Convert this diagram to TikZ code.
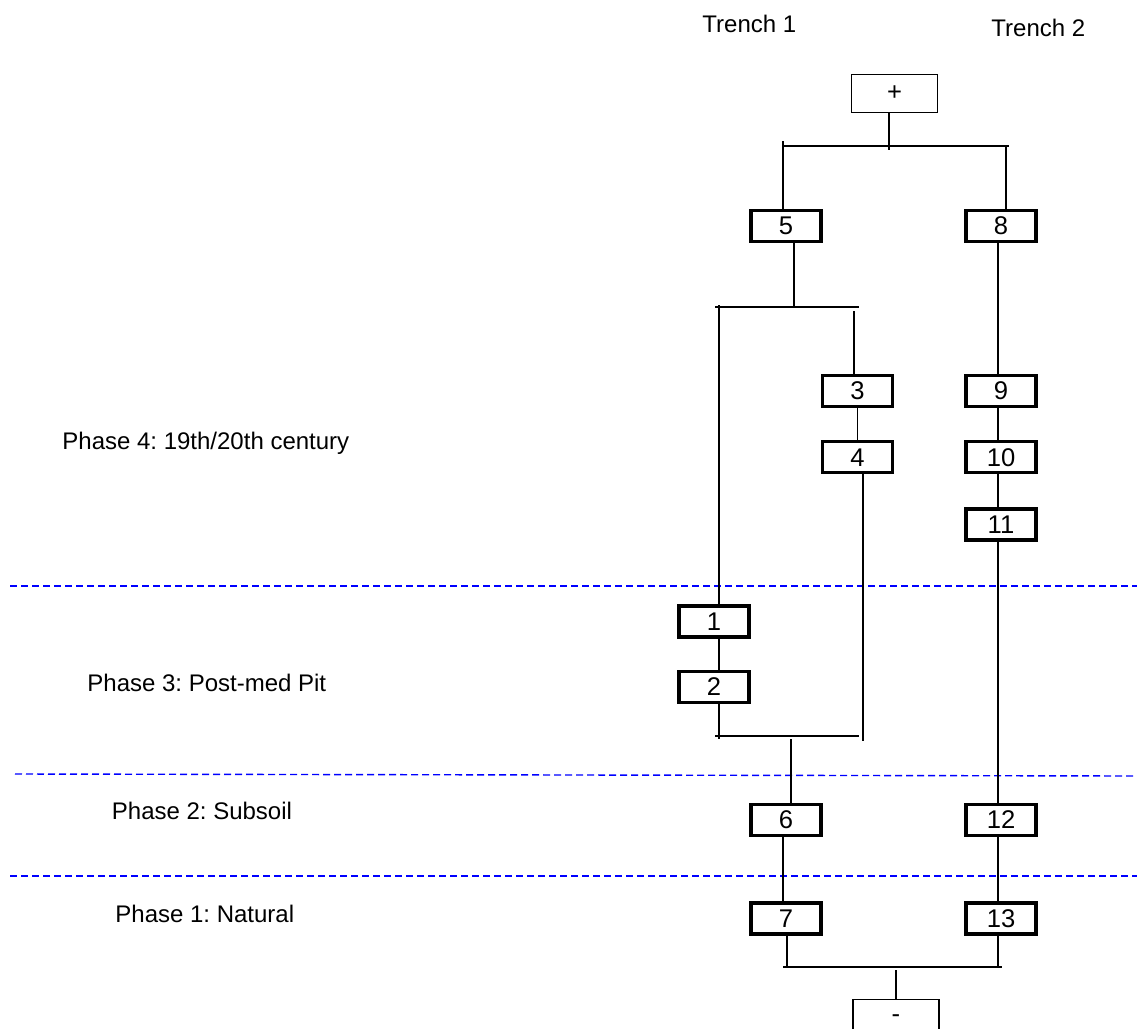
\documentclass[tikz,border=0pt]{standalone}
\usepackage{fontspec}
\setmainfont{Liberation Sans}
\usetikzlibrary{positioning}
\frenchspacing

\begin{document}
\begin{tikzpicture}[x=0.5pt, y=-0.5pt,
  unit/.style={draw, line width=1.6pt, minimum width=35pt, minimum height=15.5pt, inner sep=0pt, font=\fontsize{12.8}{14}\selectfont},
  ends/.style={draw, line width=0.7pt, minimum width=43pt, minimum height=19pt, inner sep=0pt, font=\fontsize{12.8}{14}\selectfont},
  link/.style={line width=0.65pt},
  phase/.style={draw=blue, dash pattern=on 3.5pt off 2pt, line width=0.7pt},
  lbl/.style={anchor=base west, inner sep=0pt, font=\fontsize{12}{14}\selectfont}]
  \useasboundingbox (0,0) rectangle (1137,1029);

  % phase boundaries
  \draw[phase] (10,586) -- (1137,586);
  \draw[phase] (15,774) -- (1137,776);
  \draw[phase] (10,876) -- (1137,876);

  % labels
  \node[lbl] (trench1) at (702,32.3) {Trench 1};
  \node[lbl] (trench2) at (991,36) {Trench 2};
  \node[lbl] (phase4) at (62,449.3) {Phase 4: 19th/20th century};
  \node[lbl] (phase3) at (87,691.7) {Phase 3: Post-med Pit};
  \node[lbl] (phase2) at (111.5,819.3) {Phase 2: Subsoil};
  \node[lbl] (phase1) at (115,922.3) {Phase 1: Natural};

  % contexts
  \node[ends] (plus) at (894.5,93.5) {+};
  \node[unit] (c5) at (786,226) {5};
  \node[unit] (c8) at (1001,226) {8};
  \node[unit] (c3) at (857.5,391) {3};
  \node[unit, below=16pt of c3] (c4) {4};
  \node[unit] (c9) at (1001,391) {9};
  \node[unit, below=16pt of c9] (c10) {10};
  \node[unit, below=16.5pt of c10] (c11) {11};
  \node[unit] (c1) at (714,621.5) {1};
  \node[unit, below=15.5pt of c1] (c2) {2};
  \node[unit] (c6) at (786,820) {6};
  \node[unit] (c12) at (1001,820) {12};
  \node[unit] (c7) at (786,918.5) {7};
  \node[unit] (c13) at (1001,918.5) {13};
  \node[ends] (minus) at (896,1018.5) {-};

  % junction bars
  \coordinate (topL) at (783,146);
  \coordinate (topR) at (1009,146);
  \coordinate (midL) at (715,307);
  \coordinate (midR) at (859,307);
  \coordinate (lowL) at (715,736);
  \coordinate (lowR) at (859,736);
  \coordinate (botL) at (783,967);
  \coordinate (botR) at (1002,967);
  \draw[link] (topL) -- (topR);
  \draw[link] (midL) -- (midR);
  \draw[link] (lowL) -- (lowR);
  \draw[link] (botL) -- (botR);

  % trench 1
  \draw[link] ([xshift=-2.75pt]plus.south) -- ++(0,37);
  \draw[link] ([xshift=-1.5pt]c5.north) -- ++(0,-68);
  \draw[link] ([xshift=4pt]c5.south) -- ++(0,64);
  \draw[link] ([xshift=2.5pt]c1.north) -- ++(0,-299);
  \draw[link] ([xshift=-1.75pt]c3.north) -- ++(0,-63);
  \draw[link] (c3) -- (c4);
  \draw[link] ([xshift=2.75pt]c4.south) -- ++(0,267);
  \draw[link] ([xshift=2.5pt]c1.south) -- ([xshift=2.5pt]c2.north);
  \draw[link] ([xshift=2.5pt]c2.south) -- ++(0,35);
  \draw[link] ([xshift=2.5pt]c6.north) -- ++(0,-64);
  \draw[link] ([xshift=-1.5pt]c6.south) -- ([xshift=-1.5pt]c7.north);
  \draw[link] ([xshift=0.5pt]c7.south) -- ++(0,32);

  % trench 2
  \draw[link] ([xshift=2.5pt]c8.north) -- ++(0,-63);
  \draw[link] ([xshift=-1.5pt]c8.south) -- ([xshift=-1.5pt]c9.north);
  \draw[link] ([xshift=-1.5pt]c9.south) -- ([xshift=-1.5pt]c10.north);
  \draw[link] ([xshift=-1.5pt]c10.south) -- ([xshift=-1.5pt]c11.north);
  \draw[link] ([xshift=-1.5pt]c11.south) -- ([xshift=-1.5pt]c12.north);
  \draw[link] ([xshift=-1.5pt]c12.south) -- ([xshift=-1.5pt]c13.north);
  \draw[link] ([xshift=-1.5pt]c13.south) -- ++(0,32);
  \draw[link] (minus.north) -- ++(0,-29);
\end{tikzpicture}
\end{document}
